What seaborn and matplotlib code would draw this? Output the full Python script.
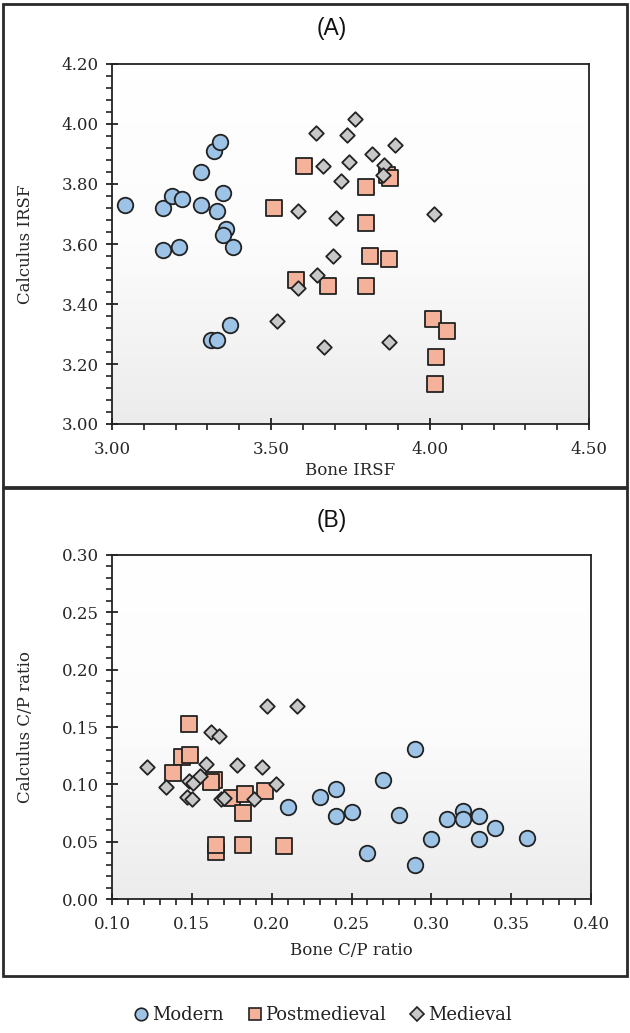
import numpy as np
import pandas as pd
import matplotlib
matplotlib.use("Agg")
import matplotlib.pyplot as plt
import seaborn as sns
from matplotlib.colors import LinearSegmentedColormap
from matplotlib.patches import Rectangle
from matplotlib.lines import Line2D
from matplotlib.ticker import MultipleLocator, FormatStrFormatter

sns.set_theme(style="white")
plt.rcParams['font.family'] = ['DejaVu Serif']

# ---------------- Data ----------------
# Panel A: IRSF
modern_bone_irsf = [3.04, 3.16, 3.19, 3.22, 3.16, 3.21, 3.28, 3.28, 3.32, 3.34,
                    3.33, 3.35, 3.36, 3.35, 3.38, 3.37, 3.31, 3.33]
modern_calc_irsf = [3.73, 3.72, 3.76, 3.75, 3.58, 3.59, 3.84, 3.73, 3.91, 3.94,
                    3.71, 3.77, 3.65, 3.63, 3.59, 3.33, 3.28, 3.28]

post_bone_irsf = [3.605, 3.80, 3.865, 3.875, 3.51, 3.80, 3.81, 3.87, 3.58, 3.68,
                  3.80, 4.01, 4.055, 4.02, 4.015]
post_calc_irsf = [3.86, 3.79, 3.83, 3.82, 3.72, 3.67, 3.56, 3.55, 3.48, 3.46,
                  3.46, 3.35, 3.31, 3.225, 3.135]

med_bone_irsf = [3.763, 3.64, 3.74, 3.89, 3.817, 3.664, 3.746, 3.855, 3.853, 3.72,
                 3.585, 3.705, 4.013, 3.696, 3.646, 3.586, 3.52, 3.667, 3.871]
med_calc_irsf = [4.017, 3.97, 3.964, 3.93, 3.90, 3.861, 3.872, 3.865, 3.83, 3.81,
                 3.71, 3.687, 3.70, 3.56, 3.497, 3.453, 3.345, 3.258, 3.274]

# Panel B: C/P ratio
modern_bone_cp = [0.29, 0.27, 0.24, 0.23, 0.21, 0.24, 0.25, 0.26, 0.28, 0.29,
                  0.30, 0.31, 0.32, 0.32, 0.33, 0.33, 0.34, 0.36]
modern_calc_cp = [0.131, 0.104, 0.096, 0.089, 0.080, 0.072, 0.076, 0.040, 0.073, 0.030,
                  0.052, 0.070, 0.077, 0.070, 0.072, 0.052, 0.062, 0.053]

post_bone_cp = [0.148, 0.144, 0.149, 0.138, 0.164, 0.162, 0.175, 0.183, 0.182, 0.196,
                0.165, 0.165, 0.182, 0.208]
post_calc_cp = [0.153, 0.124, 0.126, 0.110, 0.104, 0.102, 0.088, 0.092, 0.075, 0.094,
                0.041, 0.047, 0.047, 0.046]

med_bone_cp = [0.197, 0.216, 0.162, 0.167, 0.122, 0.159, 0.178, 0.194, 0.134, 0.148,
               0.151, 0.155, 0.147, 0.150, 0.168, 0.170, 0.189, 0.203]
med_calc_cp = [0.168, 0.168, 0.146, 0.142, 0.115, 0.118, 0.117, 0.115, 0.098, 0.103,
               0.101, 0.107, 0.089, 0.087, 0.087, 0.088, 0.087, 0.100]

groups = ["Modern", "Postmedieval", "Medieval"]

# ---------------- Styles ----------------
style = {
    "Modern": dict(marker="o", color="#9dc3e6", s=125),
    "Postmedieval": dict(marker="s", color="#f5b29a", s=120),
    "Medieval": dict(marker="D", color="#c8c8c8", s=55),
}
edge = "#222222"

W, H = 630, 1033
fig = plt.figure(figsize=(W / 100, H / 100), dpi=100)

def fx(px):
    return px / W

def fy(py):
    return 1 - py / H

# Panel frames
fig.patches.append(Rectangle((fx(3), fy(487)), fx(624), 483 / H, transform=fig.transFigure,
                             fill=False, edgecolor="#2a2a2a", linewidth=2.0))
fig.patches.append(Rectangle((fx(3), fy(976)), fx(624), 488 / H, transform=fig.transFigure,
                             fill=False, edgecolor="#2a2a2a", linewidth=2.0))

axA = fig.add_axes([fx(112), fy(424), (589 - 112) / W, (424 - 64) / H])
axB = fig.add_axes([fx(112), fy(899), (591 - 112) / W, (899 - 555) / H])

grad_cmap = LinearSegmentedColormap.from_list("g", ["#ffffff", "#fcfcfc", "#ececec"])
grad = np.linspace(0, 1, 256).reshape(-1, 1)

def make_df(xs, ys):
    rows = []
    for g, (x, y) in zip(groups, zip(xs, ys)):
        for a, b in zip(x, y):
            rows.append((g, a, b))
    return pd.DataFrame(rows, columns=["period", "x", "y"])

dfA = make_df([modern_bone_irsf, post_bone_irsf, med_bone_irsf],
              [modern_calc_irsf, post_calc_irsf, med_calc_irsf])
dfB = make_df([modern_bone_cp, post_bone_cp, med_bone_cp],
              [modern_calc_cp, post_calc_cp, med_calc_cp])

def draw(ax, df, xlim, ylim, xmaj, xmin, ymaj, ymin, xlabel, ylabel):
    ax.imshow(grad, extent=[0, 1, 0, 1], transform=ax.transAxes, aspect="auto",
              cmap=grad_cmap, zorder=0)
    for g in groups:
        sub = df[df.period == g]
        st = style[g]
        sns.scatterplot(data=sub, x="x", y="y", ax=ax, marker=st["marker"], color=st["color"],
                        s=st["s"], edgecolor=edge, linewidth=1.3, zorder=3, legend=False)
    ax.set_xlim(*xlim)
    ax.set_ylim(*ylim)
    ax.xaxis.set_major_locator(MultipleLocator(xmaj))
    ax.xaxis.set_minor_locator(MultipleLocator(xmin))
    ax.yaxis.set_major_locator(MultipleLocator(ymaj))
    ax.yaxis.set_minor_locator(MultipleLocator(ymin))
    ax.xaxis.set_major_formatter(FormatStrFormatter("%.2f"))
    ax.yaxis.set_major_formatter(FormatStrFormatter("%.2f"))
    ax.tick_params(which="major", direction="inout", length=9, width=1.3, color="#222222",
                   labelsize=12, labelcolor="#262626", bottom=True, left=True)
    ax.tick_params(axis="x", which="major", pad=8)
    ax.tick_params(axis="y", which="major", pad=5)
    ax.tick_params(which="minor", direction="out", length=4, width=1.2, color="#222222",
                   bottom=True, left=True)
    for sp in ax.spines.values():
        sp.set_visible(True)
        sp.set_color("#222222")
        sp.set_linewidth(1.3)
    ax.set_xlabel(xlabel, fontsize=12, color="#262626")
    ax.set_ylabel(ylabel, fontsize=12, color="#262626")
    ax.grid(False)

draw(axA, dfA, (3.0, 4.5), (3.0, 4.2), 0.5, 0.1, 0.2, 0.04, "Bone IRSF", "Calculus IRSF")
draw(axB, dfB, (0.10, 0.40), (0.0, 0.30), 0.05, 0.01, 0.05, 0.01, "Bone C/P ratio", "Calculus C/P ratio")

axA.xaxis.set_label_coords(0.5, (424 - 462) / 360)
axB.xaxis.set_label_coords(0.5, (899 - 942) / 344)
axA.yaxis.set_label_coords((34 - 112) / 477, 0.5)
axB.yaxis.set_label_coords((34 - 112) / 479, 0.5)

fig.text(fx(332), fy(28), "(A)", ha="center", va="center", fontsize=16.5,
         family=["Liberation Sans", "DejaVu Sans"], color="#111111")
fig.text(fx(332), fy(521), "(B)", ha="center", va="center", fontsize=16.5,
         family=["Liberation Sans", "DejaVu Sans"], color="#111111")

handles = [Line2D([], [], linestyle="none", marker=style[g]["marker"],
                  markerfacecolor=style[g]["color"], markeredgecolor=edge,
                  markeredgewidth=1.2, markersize=(9 if g != "Medieval" else 7))
           for g in groups]
fig.legend(handles, groups, loc="center", bbox_to_anchor=(fx(322), fy(1015)), ncol=3,
           frameon=False, fontsize=13, handletextpad=0.1, columnspacing=1.2,
           handlelength=1.0, labelcolor="#222222")

fig.savefig("out.png", dpi=100)
